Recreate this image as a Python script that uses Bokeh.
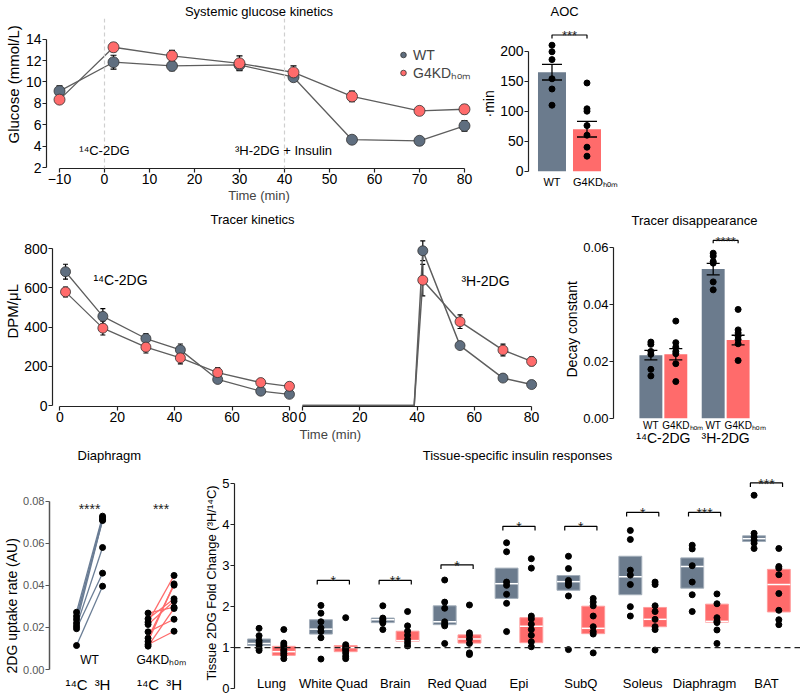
import numpy as np
from bokeh.plotting import figure
from bokeh.models import (ColumnDataSource, Whisker, TeeHead, FactorRange, Range1d,
                          Label, Legend, LegendItem, Span, FixedTicker, Title,
                          NumeralTickFormatter)
from bokeh.layouts import row, column
from bokeh.embed import file_html
from bokeh.resources import INLINE
from bokeh.core.properties import value

FONT = "Liberation Sans"
WT_COLOR = "#6B7B8D"
KD_COLOR = "#FF6B6B"
WT_MARK = "#5F6E7F"
LINE_GRAY = "#5E5E5E"
AXIS = "#222222"

# ---------------- data ----------------
genotypes = ["WT", "G4KDₕₒₘ"]

# Systemic glucose kinetics (mmol/L)
glc_time = [-10, 2, 15, 30, 42, 55, 70, 80]
glc_wt = [9.15, 11.85, 11.5, 11.6, 10.45, 4.6, 4.5, 5.9]
glc_wt_sem = [0.5, 0.65, 0.45, 0.5, 0.4, 0.2, 0.35, 0.5]
glc_kd = [8.35, 13.25, 12.45, 11.75, 10.9, 8.65, 7.3, 7.45]
glc_kd_sem = [0.3, 0.4, 0.5, 0.7, 0.6, 0.5, 0.35, 0.4]
inj_times = [0, 40]
inj_labels = ["¹⁴C-2DG", "³H-2DG + Insulin"]

# AOC
aoc_mean = [165, 70]
aoc_sem = [13, 13]
aoc_wt_pts = [210, 199, 186, 154, 137, 110]
aoc_kd_pts = [147, 104, 100, 76, 60, 40, 25]

# Tracer kinetics (DPM/uL)
c14_time = [2, 15, 30, 42, 55, 70, 80]
c14_wt = [683, 455, 342, 284, 133, 73, 57]
c14_wt_sem = [38, 40, 25, 30, 12, 10, 8]
c14_kd = [580, 395, 298, 243, 168, 117, 98]
c14_kd_sem = [25, 35, 30, 30, 25, 20, 10]
h3_time = [0, 39, 42, 55, 70, 80]
h3_wt = [0, 0, 790, 306, 140, 107]
h3_wt_sem = [0, 0, 50, 15, 8, 8]
h3_kd = [0, 0, 640, 428, 283, 225]
h3_kd_sem = [0, 0, 80, 35, 30, 22]

# Tracer disappearance (decay constant)
tracers = ["¹⁴C-2DG", "³H-2DG"]
dis_mean = [0.0222, 0.0225, 0.0525, 0.0275]
dis_sem = [0.0017, 0.0020, 0.0020, 0.0017]
dis_pts = [
    [0.0268, 0.0260, 0.0235, 0.0225, 0.0172, 0.0149],
    [0.0342, 0.0266, 0.0250, 0.0235, 0.0227, 0.0192, 0.0129],
    [0.0581, 0.0571, 0.0552, 0.0546, 0.0480, 0.0452],
    [0.0383, 0.0311, 0.0300, 0.0289, 0.0277, 0.0262, 0.0203],
]

# Diaphragm paired uptake rates
dia_tracers = ["¹⁴C", "³H"]
dia_wt_c14 = [0.0272, 0.0253, 0.0238, 0.0220, 0.0206, 0.0194, 0.0114]
dia_wt_h3 = [0.0729, 0.0708, 0.0721, 0.0712, 0.0580, 0.0458, 0.0396]
dia_kd_c14 = [0.0268, 0.0241, 0.0225, 0.0214, 0.0179, 0.0149, 0.0133, 0.0119, 0.0111]
dia_kd_h3 = [0.0296, 0.0336, 0.0447, 0.0325, 0.0239, 0.0401, 0.0407, 0.0182, 0.0290]
dia_sig = ["****", "***"]

# Tissue-specific insulin responses
tissues = ["Lung", "White Quad", "Brain", "Red Quad", "Epi", "SubQ", "Soleus", "Diaphragm", "BAT"]
tis_wt_mid = [1.10, 1.45, 1.68, 1.63, 2.56, 2.61, 2.73, 2.98, 3.66]
tis_wt_lo = [1.05, 1.33, 1.61, 1.56, 2.20, 2.40, 2.29, 2.45, 3.59]
tis_wt_hi = [1.21, 1.68, 1.72, 2.02, 2.94, 2.76, 3.23, 3.19, 3.73]
tis_kd_mid = [0.90, 1.00, 1.17, 1.21, 1.52, 1.47, 1.69, 1.64, 2.54]
tis_kd_lo = [0.81, 0.90, 1.15, 1.11, 1.12, 1.34, 1.51, 1.62, 1.87]
tis_kd_hi = [1.03, 1.05, 1.40, 1.31, 1.73, 2.01, 1.98, 2.06, 2.91]
tis_wt_pts = [
    [1.47, 1.29, 1.17, 1.11, 1.05, 0.98, 0.93],
    [2.03, 1.84, 1.63, 1.48, 1.39, 1.24, 0.72],
    [2.02, 1.72, 1.68, 1.64, 1.60, 1.44],
    [2.65, 2.11, 1.96, 1.63, 1.57, 1.53, 1.10],
    [3.56, 3.34, 2.60, 2.52, 2.30, 2.08, 1.39],
    [3.23, 2.93, 2.64, 2.58, 2.52, 2.26, 0.95],
    [3.86, 3.64, 2.89, 2.77, 2.54, 2.00, 1.77],
    [3.50, 3.41, 3.00, 2.60, 2.29, 1.88],
    [4.72, 3.79, 3.70, 3.62, 3.55, 3.42],
]
tis_kd_pts = [
    [1.44, 1.11, 1.06, 1.01, 0.95, 0.91, 0.86, 0.81, 0.73],
    [1.73, 1.07, 1.01, 0.97, 0.93, 0.87, 0.79, 0.73],
    [1.88, 1.53, 1.40, 1.30, 1.20, 1.12, 1.04],
    [2.04, 1.36, 1.30, 1.21, 1.10, 0.87, 0.83],
    [3.17, 2.94, 1.77, 1.70, 1.57, 1.44, 1.30, 1.14, 1.02],
    [2.20, 2.11, 2.02, 1.77, 1.51, 1.39, 1.33, 0.87],
    [2.60, 2.54, 2.02, 1.88, 1.69, 1.51, 1.44, 0.94],
    [2.31, 2.07, 1.73, 1.64, 1.61, 1.43, 1.10],
    [3.42, 2.98, 2.94, 2.78, 2.32, 1.91, 1.68, 1.56],
]
tis_sig = ["", "*", "**", "*", "*", "*", "*", "***", "***"]
tis_sig_y = [0, 2.64, 2.64, 3.02, 3.96, 3.96, 4.30, 4.30, 5.02]


# ---------------- helpers ----------------
def make_fig(w, h, bl, br, bt, bb, x_range, y_range):
    p = figure(width=w, height=h, x_range=x_range, y_range=y_range,
               output_backend="svg", toolbar_location=None,
               min_border_left=bl, min_border_right=br,
               min_border_top=bt, min_border_bottom=bb)
    p.xgrid.visible = False
    p.ygrid.visible = False
    p.outline_line_color = None
    p.background_fill_color = "white"
    p.border_fill_color = "white"
    return p


def set_title(p, text, standoff, align="center", offset=0, size="13px"):
    p.title.text = text
    p.title.align = align
    p.title.offset = offset
    p.title.standoff = standoff
    p.title.text_font = FONT
    p.title.text_font_size = size
    p.title.text_font_style = "normal"
    p.title.text_color = "black"


def y_title(p, text, offset, size):
    # vertical axis title; starts `offset` px above the frame bottom
    p.add_layout(Title(text=text, align="left", offset=offset, standoff=2,
                       text_font=FONT, text_font_size=size, text_font_style="normal",
                       text_color="black"), "left")


def style_axis(ax, size="14px", color=AXIS, label_color="black"):
    ax.axis_line_color = color
    ax.axis_line_width = 1.2
    ax.major_tick_line_color = color
    ax.major_tick_line_width = 1.2
    ax.major_tick_out = 4
    ax.major_tick_in = 0
    ax.minor_tick_line_color = None
    ax.major_label_text_font = FONT
    ax.major_label_text_font_size = size
    ax.major_label_text_color = label_color
    ax.major_label_standoff = 1
    ax.axis_label_text_font = FONT
    ax.axis_label_text_font_style = "normal"
    ax.axis_label_standoff = 1


def put_text(p, px, py, text, size="13px", align="center", baseline="middle"):
    # px, py: figure-local canvas pixels; Label screen units are frame-relative (y up)
    fl = p.min_border_left
    fb = p.height - p.min_border_bottom
    p.add_layout(Label(x=px - fl, y=fb - py, x_units="screen", y_units="screen", text=text,
                       text_font=FONT, text_font_size=size, text_align=align,
                       text_baseline=baseline, text_color="black"))


def glyph_text(p, x, y, t, size, align="center", x_offset=0):
    p.text(x=x, y=y, text=t, text_font=value(FONT), text_font_size=value(size),
           text_align=align, text_baseline="middle", x_offset=x_offset, text_color="black")


def mean_src(x, m, s):
    m = np.asarray(m, float)
    s = np.asarray(s, float)
    return ColumnDataSource(dict(x=list(x), m=m, lo=m - s, hi=m + s))


def add_err(p, src, head, level="underlay", width=1.2):
    p.add_layout(Whisker(base="x", upper="hi", lower="lo", source=src, level=level,
                         line_color="black", line_width=width,
                         upper_head=TeeHead(size=head, line_color="black", line_width=width),
                         lower_head=TeeHead(size=head, line_color="black", line_width=width)))


def star_text(p, x, y, t, size="14px"):
    p.text(x=x, y=y, text=t, text_font=value(FONT), text_font_size=value(size),
           text_align="center", text_baseline="alphabetic", y_offset=1, text_color="#222222")


# ================= ROW 1 (y 0..205) =================
p_glc = make_fig(476, 205, 46, 5, 18, 35, Range1d(-12.89, 81.56), Range1d(1.908, 15.94))
for ax in (p_glc.xaxis[0], p_glc.yaxis[0]):
    style_axis(ax)
p_glc.xaxis.ticker = FixedTicker(ticks=list(range(-10, 81, 10)))
p_glc.xaxis.bounds = (-10, 80)
p_glc.xaxis.axis_label = "Time (min)"
p_glc.xaxis.axis_label_text_font_size = "13px"
p_glc.yaxis.ticker = FixedTicker(ticks=list(range(2, 15, 2)))
p_glc.yaxis.bounds = (2, 14)
y_title(p_glc, "Glucose (mmol/L)", 25, "15px")
set_title(p_glc, "Systemic glucose kinetics", 0)
for t in inj_times:
    p_glc.add_layout(Span(location=t, dimension="height", line_color="#CFCFCF",
                          line_dash="4 3", line_width=1.2))
s_wt = mean_src(glc_time, glc_wt, glc_wt_sem)
s_kd = mean_src(glc_time, glc_kd, glc_kd_sem)
for s in (s_wt, s_kd):
    p_glc.line("x", "m", source=s, line_color=LINE_GRAY, line_width=1.3)
    add_err(p_glc, s, 6)
r_wt = p_glc.scatter("x", "m", source=s_wt, size=11, fill_color=WT_MARK, line_color="#333333", line_width=0.8)
r_kd = p_glc.scatter("x", "m", source=s_kd, size=11, fill_color=KD_COLOR, line_color="#333333", line_width=0.8)
leg = Legend(items=[LegendItem(label=value(genotypes[0]), renderers=[r_wt]),
                    LegendItem(label=value(genotypes[1]), renderers=[r_kd])],
             location=(350, 86), label_text_font=FONT, label_text_font_size="14px",
             glyph_width=14, glyph_height=17, label_height=17, label_standoff=3,
             padding=0, spacing=0, margin=0, border_line_color=None,
             background_fill_alpha=0)
p_glc.add_layout(leg)
put_text(p_glc, 104, 152, inj_labels[0])
put_text(p_glc, 283, 152, inj_labels[1])

# AOC: genotype index positions; frame reaches the figure bottom so labels sit below the bars
aoc_x = np.arange(len(genotypes), dtype=float)
aoc_bw = 0.8
p_aoc = make_fig(324, 205, 52, 161, 18, 0, Range1d(-0.671, 2.5), Range1d(-57.2, 254.5))
style_axis(p_aoc.yaxis[0], size="14px")
p_aoc.xaxis.visible = False
p_aoc.yaxis.ticker = FixedTicker(ticks=[0, 50, 100, 150, 200])
p_aoc.yaxis.bounds = (0, 200)
y_title(p_aoc, "·min", 88, "14px")
set_title(p_aoc, "AOC", 0, align="left", offset=22)
aoc_src = ColumnDataSource(dict(x=aoc_x, m=aoc_mean,
                                lo=np.subtract(aoc_mean, aoc_sem), hi=np.add(aoc_mean, aoc_sem),
                                c=[WT_COLOR, KD_COLOR]))
p_aoc.vbar(x="x", top="m", width=aoc_bw, fill_color="c", line_color=None, source=aoc_src)
add_err(p_aoc, aoc_src, 20, level="overlay", width=1.3)
p_aoc.scatter(x=[aoc_x[0]] * len(aoc_wt_pts), y=aoc_wt_pts, size=6, color="black")
p_aoc.scatter(x=[aoc_x[1]] * len(aoc_kd_pts), y=aoc_kd_pts, size=6, color="black")
aoc_br = 227
p_aoc.line(x=[aoc_x[0], aoc_x[0], aoc_x[1], aoc_x[1]],
           y=[aoc_br - 6, aoc_br, aoc_br, aoc_br - 6], line_color="black", line_width=1.2)
star_text(p_aoc, [aoc_x.mean()], [aoc_br], ["***"], size="13px")
aoc_lab_y = -18.8
glyph_text(p_aoc, [aoc_x[0]], [aoc_lab_y], [genotypes[0]], "11px")
glyph_text(p_aoc, [aoc_x[1] - aoc_bw / 2], [aoc_lab_y], [genotypes[1]], "11px", align="left")

# ================= ROW 2 (y 205..445) =================
tr_y = Range1d(-5.1, 898.5)
p_trl = make_fig(298, 240, 52, 1, 24, 39, Range1d(-2.54, 82.8), tr_y)
p_trr = make_fig(262, 240, 1, 20, 24, 39, Range1d(-1.05, 83.1), tr_y)
for p in (p_trl, p_trr):
    style_axis(p.xaxis[0])
    style_axis(p.yaxis[0])
    p.xaxis.ticker = FixedTicker(ticks=[0, 20, 40, 60, 80])
    p.xaxis.bounds = (0, 80)
p_trl.yaxis.ticker = FixedTicker(ticks=[0, 200, 400, 600, 800])
p_trl.yaxis.bounds = (0, 800)
y_title(p_trl, "DPM/μL", 68, "15px")
p_trr.yaxis.visible = False
set_title(p_trl, "Tracer kinetics", 5, align="left", offset=158)
p_trr.add_layout(Title(text="Time (min)", align="left", offset=0, standoff=0,
                       text_font=FONT, text_font_size="13px", text_font_style="normal"), "below")

sc_wt = mean_src(c14_time, c14_wt, c14_wt_sem)
sc_kd = mean_src(c14_time, c14_kd, c14_kd_sem)
for s in (sc_wt, sc_kd):
    p_trl.line("x", "m", source=s, line_color=LINE_GRAY, line_width=1.3)
    add_err(p_trl, s, 5)
p_trl.scatter("x", "m", source=sc_wt, size=10, fill_color=WT_MARK, line_color="#333333", line_width=0.8)
p_trl.scatter("x", "m", source=sc_kd, size=10, fill_color=KD_COLOR, line_color="#333333", line_width=0.8)

for vals, sem, col in ((h3_wt, h3_wt_sem, WT_MARK), (h3_kd, h3_kd_sem, KD_COLOR)):
    p_trr.line(h3_time, vals, line_color=LINE_GRAY, line_width=1.5)
    mask = np.asarray(vals) > 0
    sh = mean_src(np.asarray(h3_time)[mask], np.asarray(vals)[mask], np.asarray(sem)[mask])
    add_err(p_trr, sh, 5)
    p_trr.scatter("x", "m", source=sh, size=10, fill_color=col, line_color="#333333", line_width=0.8)
put_text(p_trl, 120, 279 - 205, tracers[0], size="14px")
put_text(p_trr, 485 - 298, 280 - 205, tracers[1], size="14px")

dis_factors = [(t, g) for t in tracers for g in genotypes]
p_dis = make_fig(240, 240, 53, 25, 24, 0,
                 FactorRange(factors=dis_factors, factor_padding=0, group_padding=0.5,
                             range_padding=1.0, range_padding_units="absolute"),
                 Range1d(-0.00962, 0.06645))
style_axis(p_dis.yaxis[0], size="13px")
p_dis.yaxis.ticker = FixedTicker(ticks=[0, 0.02, 0.04, 0.06])
p_dis.yaxis.bounds = (0, 0.06)
p_dis.yaxis.formatter = NumeralTickFormatter(format="0.00")
y_title(p_dis, "Decay constant", 68, "14px")
p_dis.xaxis.visible = False
set_title(p_dis, "Tracer disappearance", 3)
dis_src = ColumnDataSource(dict(x=dis_factors, m=dis_mean,
                                lo=np.subtract(dis_mean, dis_sem), hi=np.add(dis_mean, dis_sem),
                                c=[WT_COLOR, KD_COLOR, WT_COLOR, KD_COLOR]))
p_dis.vbar(x="x", top="m", width=0.92, fill_color="c", line_color=None, source=dis_src)
add_err(p_dis, dis_src, 13, level="overlay", width=1.3)
for f, pts in zip(dis_factors, dis_pts):
    p_dis.scatter(x=[f] * len(pts), y=pts, size=6, color="black")
dis_br = 0.0626
p_dis.line(x=[dis_factors[2], dis_factors[2], dis_factors[3], dis_factors[3]],
           y=[dis_br - 0.001, dis_br, dis_br, dis_br - 0.001], line_color="black", line_width=1.2)
star_text(p_dis, [tracers[1]], [dis_br], ["****"], size="13px")
dis_sub_y, dis_grp_y = -0.00257, -0.00715
wt_f = [f for f in dis_factors if f[1] == genotypes[0]]
kd_f = [f for f in dis_factors if f[1] == genotypes[1]]
glyph_text(p_dis, wt_f, [dis_sub_y] * len(wt_f), [f[1] for f in wt_f], "10px")
glyph_text(p_dis, kd_f, [dis_sub_y] * len(kd_f), [f[1] for f in kd_f], "10px",
           align="left", x_offset=-13.5)
glyph_text(p_dis, tracers, [dis_grp_y] * len(tracers), tracers, "14px")

# ================= ROW 3 (y 445..696) =================
p_dia = make_fig(200, 251, 49, 2, 17, 27, Range1d(-1.04, 4.69), Range1d(0, 0.0984))
style_axis(p_dia.yaxis[0], size="11px", color="#555555", label_color="#555555")
style_axis(p_dia.xaxis[0], size="15px")
p_dia.yaxis.axis_line_width = 1.5
p_dia.yaxis.ticker = FixedTicker(ticks=[0, 0.02, 0.04, 0.06, 0.08])
p_dia.yaxis.bounds = (0, 0.08)
p_dia.yaxis.formatter = NumeralTickFormatter(format="0.00")
y_title(p_dia, "2DG uptake rate (AU)", -4, "14px")
set_title(p_dia, "Diaphragm", 0, align="left", offset=28)
grp_step = 2.75
dia_x = [g * grp_step + t for g in range(2) for t in range(2)]
p_dia.xaxis.ticker = FixedTicker(ticks=dia_x)
p_dia.xaxis.major_label_overrides = {x: dia_tracers[i % 2] for i, x in enumerate(dia_x)}
p_dia.xaxis.axis_line_color = None
p_dia.xaxis.major_tick_line_color = None
p_dia.xaxis.major_label_standoff = 2
for g, (c14, h3, col) in enumerate(((dia_wt_c14, dia_wt_h3, "#6A7D95"),
                                    (dia_kd_c14, dia_kd_h3, "#FF6B6B"))):
    x0, x1 = dia_x[2 * g], dia_x[2 * g + 1]
    p_dia.segment(x0=[x0] * len(c14), y0=c14, x1=[x1] * len(h3), y1=h3,
                  line_color=col, line_width=1.3)
    p_dia.scatter(x=[x0] * len(c14), y=c14, size=6, color="black")
    p_dia.scatter(x=[x1] * len(h3), y=h3, size=6, color="black")
dia_centers = [(dia_x[0] + dia_x[1]) / 2, (dia_x[2] + dia_x[3]) / 2]
p_dia.text(x=dia_centers, y=[0.0765, 0.0765], text=dia_sig, text_font=value(FONT),
           text_font_size=value("14px"), text_align="center", text_baseline="alphabetic",
           text_color="#222222")
glyph_text(p_dia, dia_centers, [0.0043, 0.0043], genotypes, "12px")

p_tis = make_fig(600, 251, 33, 0, 17, 0, Range1d(-0.597, 8.55), Range1d(-0.195, 5.52))
style_axis(p_tis.yaxis[0], size="13px")
p_tis.yaxis.ticker = FixedTicker(ticks=[0, 1, 2, 3, 4, 5])
p_tis.yaxis.bounds = (0, 5)
y_title(p_tis, "Tissue 2DG Fold Change (³H/¹⁴C)", 16, "13px")
p_tis.xaxis.visible = False
set_title(p_tis, "Tissue-specific insulin responses", 0)
p_tis.add_layout(Span(location=1, dimension="width", line_color="#222222",
                      line_dash="6 4", line_width=1.2))
t_pos = np.arange(len(tissues), dtype=float)
bw = 0.37
for xs, lo, hi, mid, pts, fill, edge in (
        (t_pos - 0.2, tis_wt_lo, tis_wt_hi, tis_wt_mid, tis_wt_pts, WT_COLOR, "#A3AEBA"),
        (t_pos + 0.2, tis_kd_lo, tis_kd_hi, tis_kd_mid, tis_kd_pts, KD_COLOR, "#FF9C9C")):
    p_tis.vbar(x=xs, bottom=lo, top=hi, width=bw, fill_color=fill, line_color=edge, line_width=1)
    p_tis.segment(x0=xs - bw / 2, x1=xs + bw / 2, y0=mid, y1=mid, line_color="white", line_width=1.5)
    px = np.concatenate([[x] * len(v) for x, v in zip(xs, pts)])
    py = np.concatenate([v for v in pts])
    p_tis.scatter(x=px, y=py, size=6, color="black")
bx, by, sx, sy, st = [], [], [], [], []
for c, s, y in zip(t_pos, tis_sig, tis_sig_y):
    if s:
        bx.append([c - 0.26, c - 0.26, c + 0.26, c + 0.26])
        by.append([y - 0.1, y, y, y - 0.1])
        sx.append(c)
        sy.append(y)
        st.append(s)
p_tis.multi_line(xs=bx, ys=by, line_color="black", line_width=1.2)
star_text(p_tis, sx, sy, st)
glyph_text(p_tis, t_pos, [0.122] * len(tissues), tissues, "13px")

# each figure wrapped in its own column so that frames are not aligned across a row
layout = column(row(column(p_glc), column(p_aoc)),
                row(column(p_trl), column(p_trr), column(p_dis)),
                row(column(p_dia), column(p_tis)))
open("out.html", "w").write(file_html(layout, INLINE, "Figure"))
